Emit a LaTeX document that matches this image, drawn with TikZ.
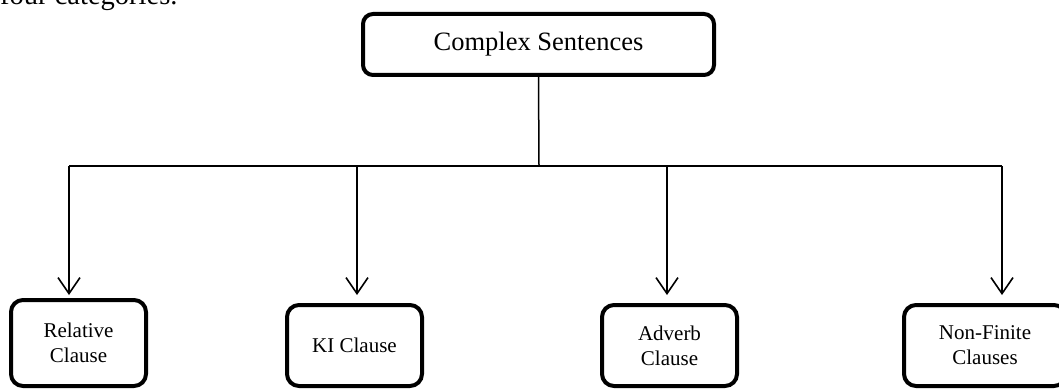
\documentclass[tikz,border=0pt]{standalone}
\usepackage{fontspec}
\setmainfont{Liberation Serif}
\usetikzlibrary{arrows.meta}
\begin{document}
\begin{tikzpicture}[x=1pt,y=-1pt,
  box/.style={draw, line width=4pt, rounded corners=12pt, inner sep=0pt, align=center,
    font=\fontsize{21}{25}\selectfont},
  topbox/.style={draw, line width=4pt, rounded corners=10pt, inner sep=0pt,
    font=\fontsize{26.5}{32}\selectfont},
  conn/.style={line width=1.5pt},
  arr/.style={line width=1.6pt, -{Straight Barb[length=16pt,width=22pt]}}]
\useasboundingbox (0,0) rectangle (1059,390);
\node[anchor=base west, inner sep=0pt, font=\fontsize{28.5}{34}\selectfont] (intro) at (0,5) {four categories.};
\node[topbox, minimum width=351pt, minimum height=61pt] (top) at (538.5,44.5) {Complex Sentences};
\node[box, minimum width=135pt, minimum height=86pt] (rel) at (78.5,343) {Relative\\Clause};
\node[box, minimum width=135pt, minimum height=81pt] (ki) at (354.5,345.5) {KI Clause};
\node[box, minimum width=135pt, minimum height=81pt] (adv) at (669.5,345.5) {Adverb\\Clause};
\node[box, minimum width=162pt, minimum height=81pt] (nf) at (985,345.5) {Non-Finite\\Clauses};
\coordinate (j) at (539,166);
\coordinate (h1) at (69,166);
\coordinate (h2) at (357,166);
\coordinate (h3) at (667,166);
\coordinate (h4) at (1002,166);
\coordinate (t1) at (69,295);
\coordinate (t2) at (357,295);
\coordinate (t3) at (667,295);
\coordinate (t4) at (1002,295);
\draw[conn] (top.south) -- (j);
\draw[conn] (h1) -- (h4);
\draw[arr] (h1) -- (t1);
\draw[arr] (h2) -- (t2);
\draw[arr] (h3) -- (t3);
\draw[arr] (h4) -- (t4);
\end{tikzpicture}
\end{document}
